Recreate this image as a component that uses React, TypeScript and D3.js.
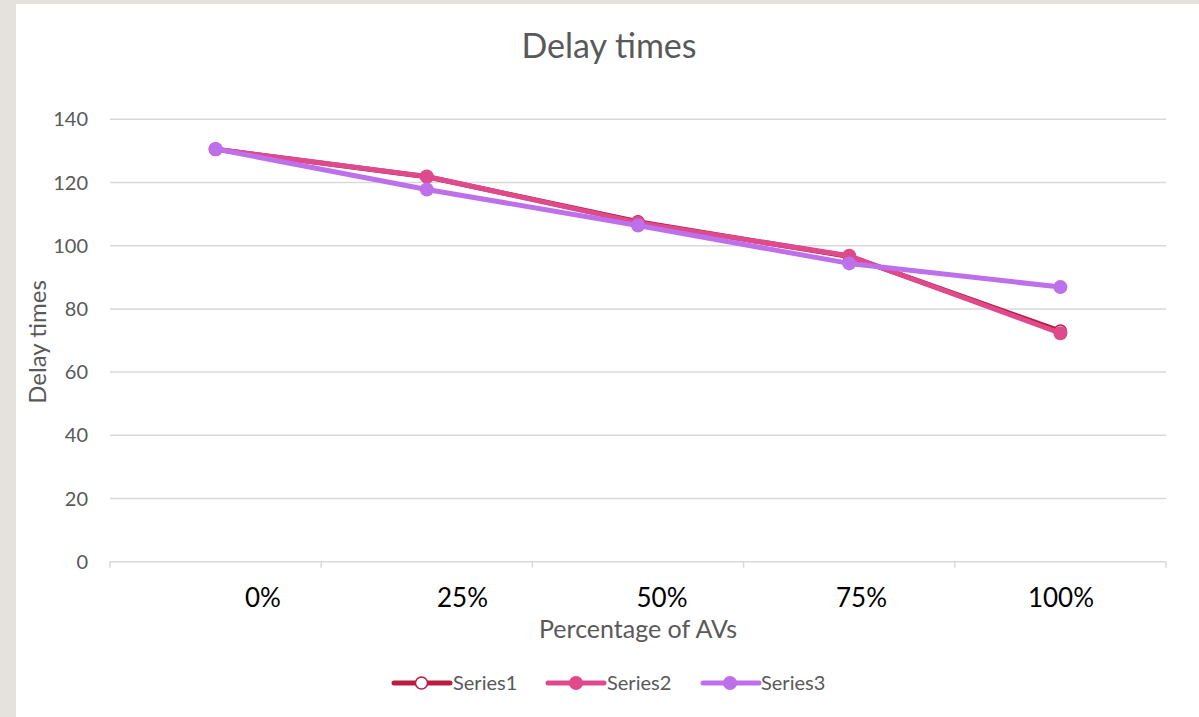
import React from "react";
import * as d3 from "d3";

const categories = ["0%", "25%", "50%", "75%", "100%"];
const series1 = [130.5, 121.8, 107.6, 96.6, 73.0];
const series2 = [130.5, 121.9, 107.3, 96.8, 72.3];
const series3 = [130.6, 117.8, 106.4, 94.4, 86.9];
const yTicks = [0, 20, 40, 60, 80, 100, 120, 140];
const seriesNames = ["Series1", "Series2", "Series3"];
const seriesColors = ["#b91d43", "#de4a8c", "#bd70ea"];

const W = 1199;
const H = 717;
const FONT = "Lato, 'Open Sans', sans-serif";

export default function App() {
  const x = d3.scaleBand<string>().domain(categories).range([110, 1166]);
  const xLabel = d3.scalePoint<string>().domain(categories).range([263, 1061]);
  const y = d3.scaleLinear().domain([0, 140]).range([561.7, 119.3]);
  const cx = (c: string) => (x(c) as number) + x.bandwidth() / 2;
  const line = d3
    .line<number>()
    .x((_, i) => cx(categories[i]))
    .y((d) => y(d));
  const allSeries = [series1, series2, series3];
  const boundaries = [...categories.map((c) => x(c) as number), 1166];

  const legendItems = [
    { lineX: 394, markX: 421.5, textX: 453 },
    { lineX: 548, markX: 576, textX: 607 },
    { lineX: 703, markX: 730, textX: 761 },
  ];

  return (
    <svg
      width={W}
      height={H}
      style={{ position: "absolute", left: 0, top: 0, display: "block" }}
      fontFamily={FONT}
    >
      <rect x={0} y={0} width={W} height={H} fill="#e5e2de" />
      <rect x={16} y={4} width={W - 16} height={H - 4} fill="#ffffff" />

      <text x={609} y={58} textAnchor="middle" fontSize={34} fill="#595959">
        Delay times
      </text>

      {yTicks.map((t) => (
        <g key={t}>
          <line
            x1={110}
            x2={1166}
            y1={y(t)}
            y2={y(t)}
            stroke="#d9d9d9"
            strokeWidth={1.5}
          />
          <text
            x={88}
            y={y(t)}
            dy="0.35em"
            textAnchor="end"
            fontSize={20}
            fill="#595959"
          >
            {t}
          </text>
        </g>
      ))}
      {boundaries.map((b, i) => (
        <line
          key={i}
          x1={b}
          x2={b}
          y1={y(0)}
          y2={y(0) + 6}
          stroke="#d9d9d9"
          strokeWidth={1.5}
        />
      ))}
      {categories.map((c) => (
        <text
          key={c}
          x={xLabel(c) as number}
          y={607}
          textAnchor="middle"
          fontSize={26}
          fill="#000000"
        >
          {c}
        </text>
      ))}
      <text x={638} y={638} textAnchor="middle" fontSize={25} fill="#595959">
        Percentage of AVs
      </text>
      <text
        transform="translate(46,342) rotate(-90)"
        textAnchor="middle"
        fontSize={24}
        fill="#595959"
      >
        Delay times
      </text>

      {allSeries.map((s, si) => (
        <g key={si}>
          <path
            d={line(s) as string}
            fill="none"
            stroke={seriesColors[si]}
            strokeWidth={5}
            strokeLinejoin="round"
          />
          {s.map((v, i) =>
            si === 0 ? (
              <circle
                key={i}
                cx={cx(categories[i])}
                cy={y(v)}
                r={6}
                fill="#ffffff"
                stroke={seriesColors[si]}
                strokeWidth={1.5}
              />
            ) : (
              <circle
                key={i}
                cx={cx(categories[i])}
                cy={y(v)}
                r={7}
                fill={seriesColors[si]}
              />
            )
          )}
        </g>
      ))}

      {legendItems.map((it, i) => (
        <g key={i}>
          <line
            x1={it.lineX}
            x2={it.lineX + 56}
            y1={683}
            y2={683}
            stroke={seriesColors[i]}
            strokeWidth={5}
            strokeLinecap="round"
          />
          {i === 0 ? (
            <circle
              cx={it.markX}
              cy={683}
              r={6}
              fill="#ffffff"
              stroke={seriesColors[i]}
              strokeWidth={1.5}
            />
          ) : (
            <circle cx={it.markX} cy={683} r={7} fill={seriesColors[i]} />
          )}
          <text
            x={it.textX}
            y={683}
            dy="0.35em"
            fontSize={20}
            fill="#595959"
          >
            {seriesNames[i]}
          </text>
        </g>
      ))}
    </svg>
  );
}
